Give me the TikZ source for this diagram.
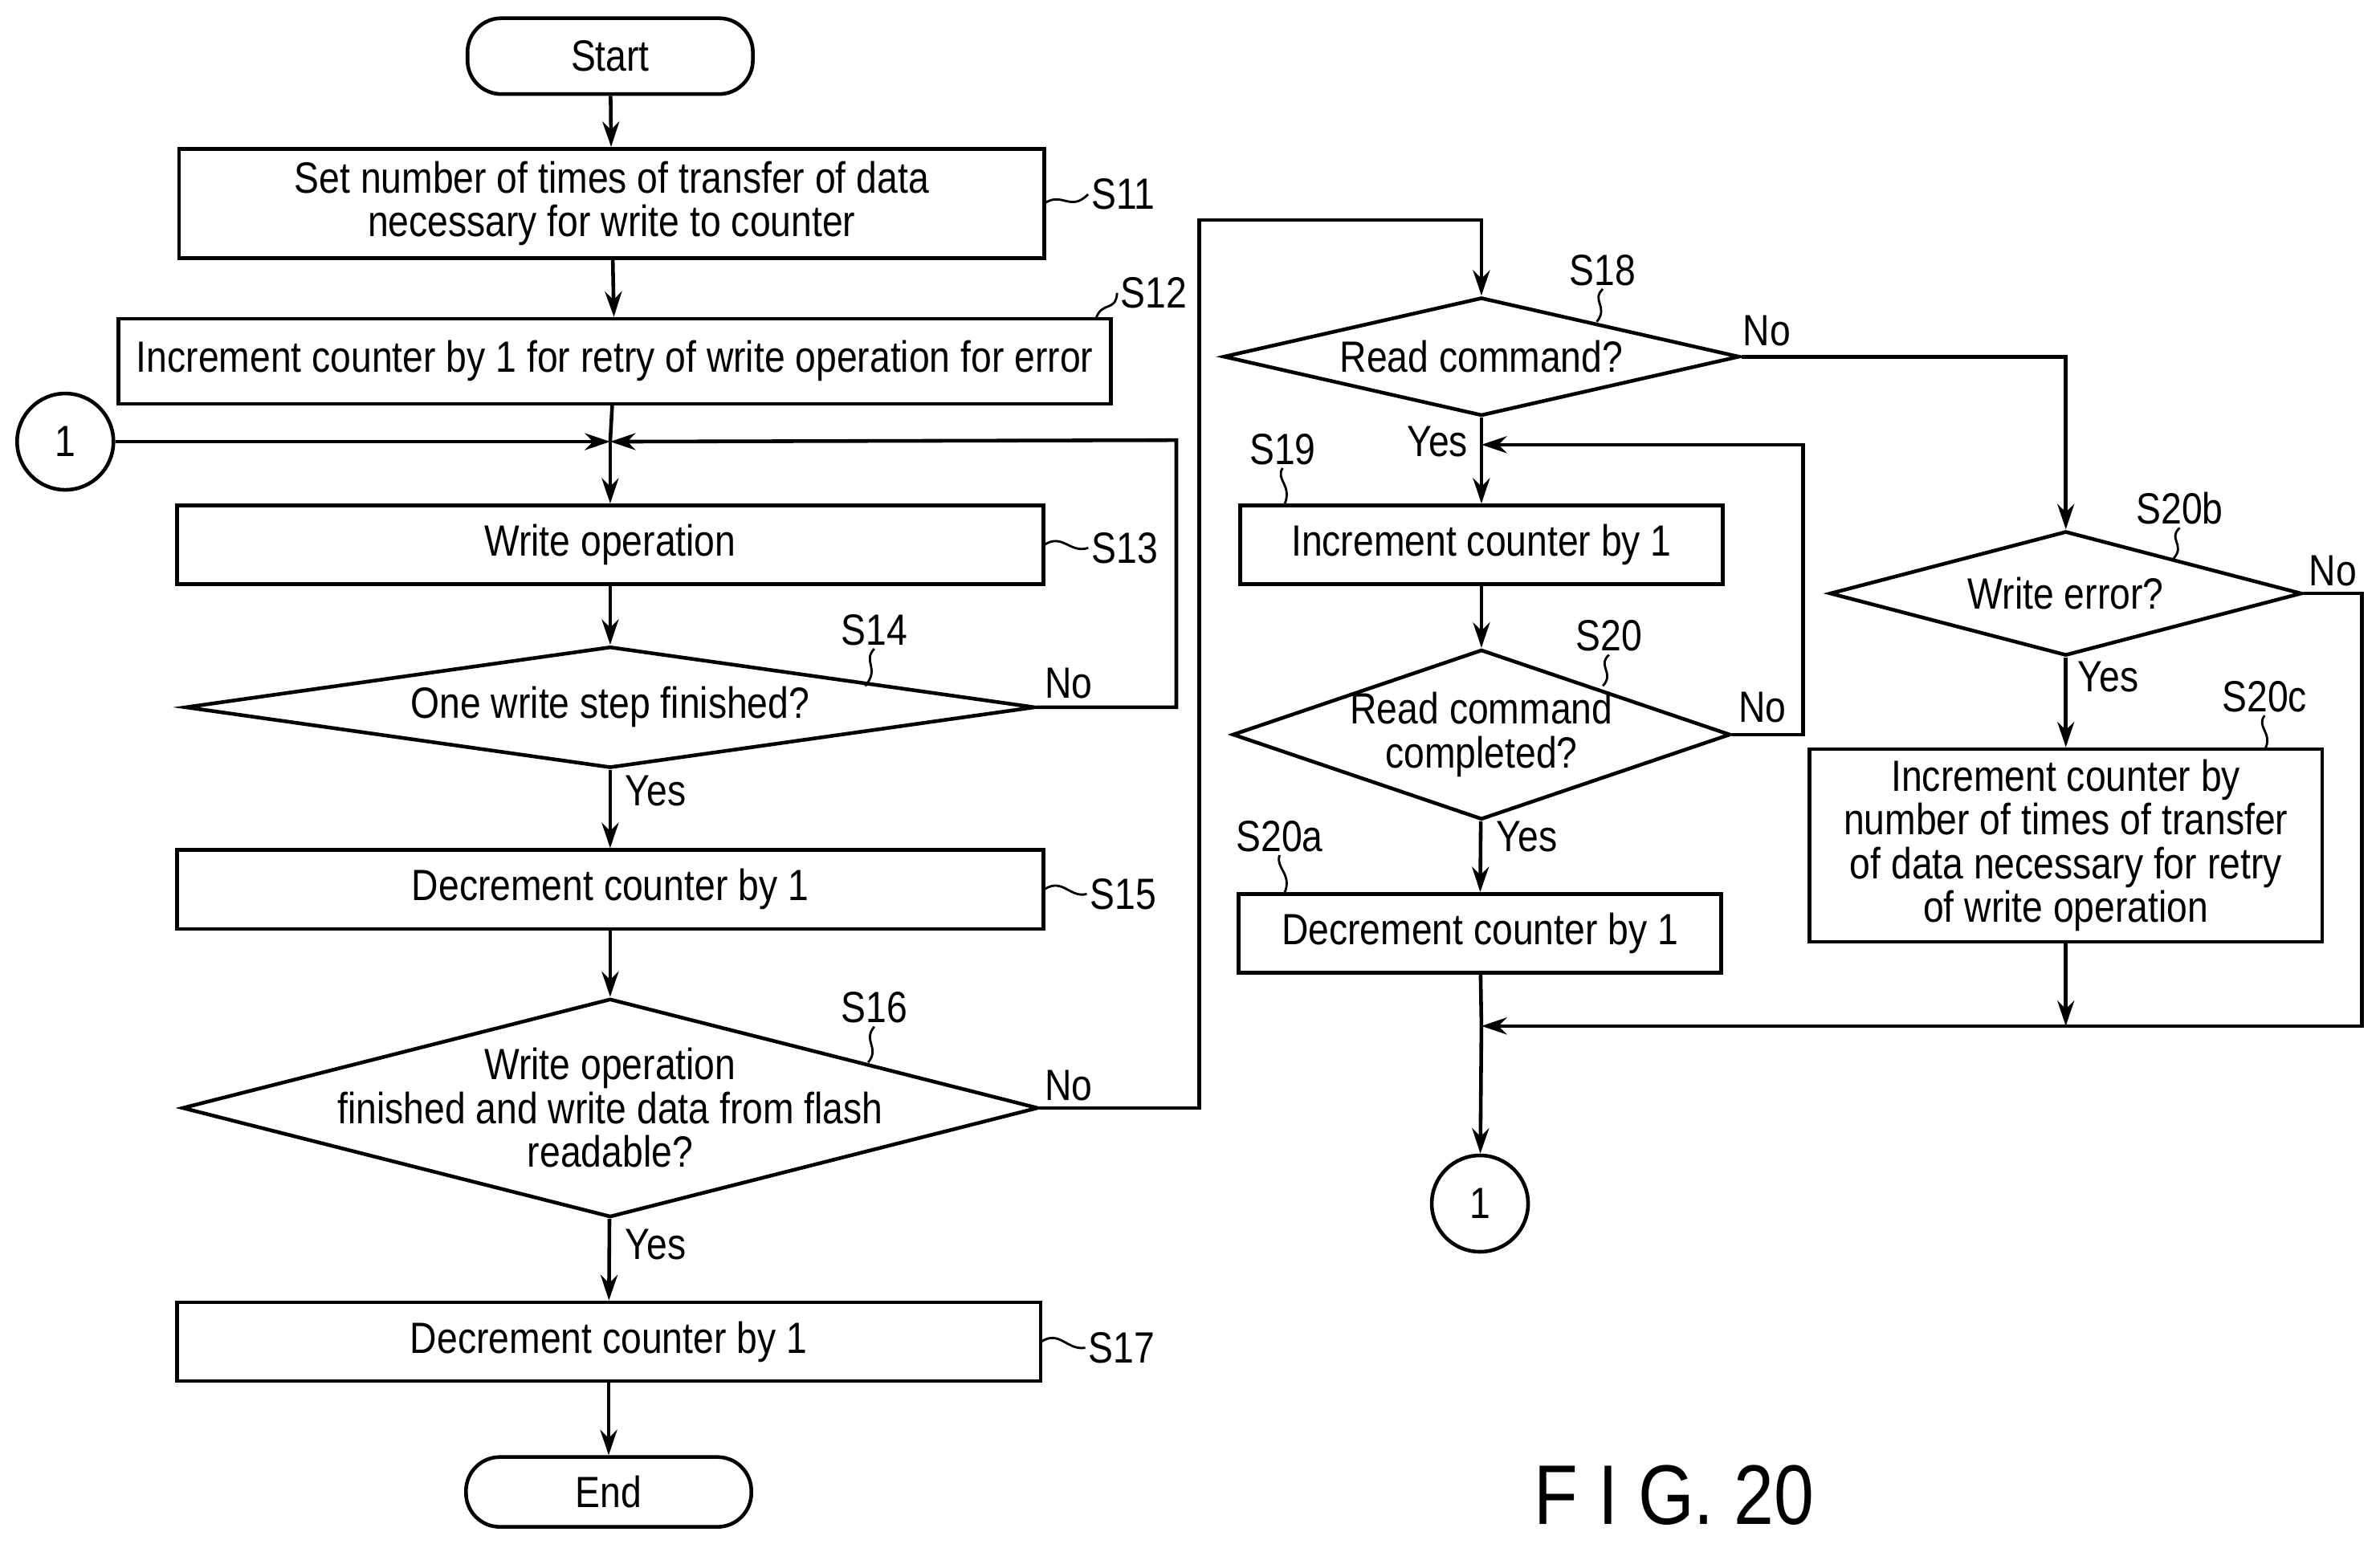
\documentclass[tikz,border=0pt]{standalone}
\usepackage{fontspec}
\setmainfont{Liberation Sans}[FakeStretch=0.85]
\usetikzlibrary{shapes.geometric,arrows.meta}
\begin{document}
\begin{tikzpicture}[x=0.0189cm,y=-0.0189cm,
  every node/.style={font=\fontsize{15.5}{15.5}\selectfont},
  box/.style={draw,line width=1.3pt,rectangle,inner sep=0pt,align=center},
  term/.style={draw,line width=1.3pt,rounded corners=12pt,inner sep=0pt},
  dia/.style={draw,line width=1.3pt,diamond,inner sep=0pt},
  circ/.style={draw,line width=1.3pt,circle,inner sep=0pt,minimum size=1.2cm},
  ln/.style={line width=1.3pt},
  arr/.style={line width=1.3pt,-{Stealth[length=9pt,width=6pt]}},
  sq/.style={line width=0.8pt},
  lab/.style={inner sep=1pt}]
\useasboundingbox (0,0) rectangle (1568,1017);
% left column
\node[term,minimum width=188*0.0189cm,minimum height=50*0.0189cm] (start) at (402,37) {Start};
\node[box,minimum width=570*0.0189cm,minimum height=72*0.0189cm] (s11) at (403,134) {Set number of times of transfer of data\\necessary for write to counter};
\node[box,minimum width=654*0.0189cm,minimum height=56*0.0189cm] (s12) at (405,238) {Increment counter by 1 for retry of write operation for error};
\node[circ] (c1) at (43,291) {1};
\coordinate (j1) at (402,291);
\node[box,minimum width=571*0.0189cm,minimum height=52*0.0189cm] (s13) at (402,359) {Write operation};
\node[dia,minimum width=560*0.0189cm,minimum height=80*0.0189cm,label={center:One write step finished?}] (s14) at (402,466) {};
\node[box,minimum width=571*0.0189cm,minimum height=52*0.0189cm] (s15) at (402,586) {Decrement counter by 1};
\node[dia,minimum width=564*0.0189cm,minimum height=144*0.0189cm,label={[align=center]center:Write operation\\finished and write data from flash\\readable?}] (s16) at (402,730) {};
\node[box,minimum width=569*0.0189cm,minimum height=52*0.0189cm] (s17) at (401,884) {Decrement counter by 1};
\node[term,minimum width=188*0.0189cm,minimum height=46*0.0189cm] (end) at (401,983) {End};
% middle column
\node[dia,minimum width=340*0.0189cm,minimum height=78*0.0189cm,label={center:Read command?}] (s18) at (976,235) {};
\node[box,minimum width=318*0.0189cm,minimum height=52*0.0189cm] (s19) at (976,359) {Increment counter by 1};
\node[dia,minimum width=328*0.0189cm,minimum height=112*0.0189cm,label={[align=center]center:Read command\\completed?}] (s20) at (976,484) {};
\node[box,minimum width=318*0.0189cm,minimum height=52*0.0189cm] (s20a) at (975,615) {Decrement counter by 1};
\coordinate (j2) at (976,676);
\node[circ] (c2) at (975,793) {1};
% right column
\node[dia,minimum width=311*0.0189cm,minimum height=82*0.0189cm,label={center:Write error?}] (s20b) at (1361,391) {};
\node[box,minimum width=338*0.0189cm,minimum height=127*0.0189cm] (s20c) at (1361,557) {Increment counter by\\number of times of transfer\\of data necessary for retry\\of write operation};
% coordinates
\coordinate (a1) at (775,466); \coordinate (a2) at (775,290);
\coordinate (b1) at (790,730); \coordinate (b2) at (790,145); \coordinate (b3) at (976,145);
\coordinate (d1) at (1361,235);
\coordinate (e1) at (1188,484); \coordinate (e2) at (1188,293); \coordinate (e3) at (976,293);
\coordinate (f1) at (1556,391); \coordinate (f2) at (1556,676);
\coordinate (g1) at (1361,676);
% connectors
\draw[arr] (start) -- (s11);
\draw[arr] (s11) -- (s12);
\draw[ln] (s12) -- (j1);
\draw[arr] (c1) -- (j1);
\draw[arr] (j1) -- (s13);
\draw[arr] (s13) -- (s14);
\draw[arr] (s14.east) -- (a1) -- (a2) -- (j1);
\draw[arr] (s14) -- (s15);
\draw[arr] (s15) -- (s16);
\draw[arr] (s16) -- (s17);
\draw[arr] (s17) -- (end);
\draw[arr] (s16.east) -- (b1) -- (b2) -- (b3) -- (s18.north);
\draw[arr] (s18) -- (s19);
\draw[arr] (s19) -- (s20);
\draw[arr] (s20) -- (s20a);
\draw[arr] (s20.east) -- (e1) -- (e2) -- (e3);
\draw[arr] (s18.east) -- (d1) -- (s20b.north);
\draw[arr] (s20b) -- (s20c);
\draw[arr] (s20c) -- (g1);
\draw[arr] (s20b.east) -- (f1) -- (f2) -- (j2);
\draw[ln] (s20a) -- (j2);
\draw[arr] (j2) -- (c2);
% yes/no
\node[lab] (n1) at (704,450) {No};
\node[lab] (y1) at (432,521) {Yes};
\node[lab] (n2) at (704,715) {No};
\node[lab] (y2) at (432,820) {Yes};
\node[lab] (n3) at (1164,218) {No};
\node[lab] (y3) at (947,291) {Yes};
\node[lab] (n4) at (1161,466) {No};
\node[lab] (y4) at (1006,551) {Yes};
\node[lab] (n5) at (1537,376) {No};
\node[lab] (y5) at (1389,446) {Yes};
% step labels
\node[lab] (l11) at (740,128) {S11};
\draw[sq] (688,134) .. controls (700,126) and (705,140) .. (l11.west);
\node[lab] (l12) at (760,193) {S12};
\draw[sq] (722,210) .. controls (726,198) and (735,206) .. (l12.west);
\node[lab] (l13) at (741,361) {S13};
\draw[sq] (688,359) .. controls (700,351) and (705,365) .. (l13.west);
\node[lab] (l14) at (576,415) {S14};
\draw[sq] (l14.south) .. controls (568,436) and (580,440) .. (570,452);
\node[lab] (l15) at (740,589) {S15};
\draw[sq] (688,586) .. controls (700,578) and (705,592) .. (l15.west);
\node[lab] (l16) at (576,664) {S16};
\draw[sq] (l16.south) .. controls (568,686) and (580,690) .. (572,700);
\node[lab] (l17) at (739,888) {S17};
\draw[sq] (686,884) .. controls (698,876) and (703,890) .. (l17.west);
\node[lab] (l18) at (1056,178) {S18};
\draw[sq] (l18.south) .. controls (1048,198) and (1060,202) .. (1052,212);
\node[lab] (l19) at (845,296) {S19};
\draw[sq] (l19.south) .. controls (840,316) and (852,320) .. (846,333);
\node[lab] (l20) at (1060,419) {S20};
\draw[sq] (l20.south) .. controls (1052,439) and (1064,443) .. (1056,452);
\node[lab] (l20a) at (843,551) {S20a};
\draw[sq] (l20a.south) .. controls (840,572) and (852,576) .. (846,589);
\node[lab] (l20b) at (1436,335) {S20b};
\draw[sq] (l20b.south) .. controls (1428,355) and (1440,359) .. (1432,368);
\node[lab] (l20c) at (1492,459) {S20c};
\draw[sq] (l20c.south) .. controls (1486,479) and (1498,483) .. (1492,494);
\node[font=\fontsize{30}{32}\selectfont] (fig) at (1103,985) {F I G. 20};
\end{tikzpicture}
\end{document}
